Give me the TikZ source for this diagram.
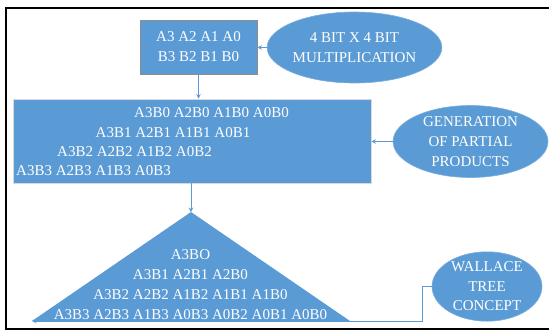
\documentclass[tikz,border=0pt]{standalone}
\usepackage{fontspec}
\setmainfont{Liberation Serif}
\usetikzlibrary{shapes.geometric,arrows.meta}
\definecolor{fillblue}{HTML}{5B9BD5}
\definecolor{lineblue}{HTML}{5B9BD5}
\tikzset{
  txt/.style={text=white,font=\fontsize{15}{20}\selectfont,inner sep=0pt},
  bluebox/.style={rectangle,fill=fillblue,inner sep=0pt},
  blueell/.style={ellipse,fill=fillblue,draw=fillblue!80!white,line width=0.6pt,inner sep=0pt,align=center,txt},
  conn/.style={draw=lineblue,line width=0.9pt,-{Stealth[length=4.5pt,width=4.5pt]}},
}
\begin{document}
\begin{tikzpicture}[x=1pt,y=-1pt]
\useasboundingbox (0,0) rectangle (549,333);
% frame
\draw[line width=2pt,black] (560,8) -- (6,8) -- (6,329) -- (560,329);
% box 1
\node[bluebox,draw=gray!90,line width=0.8pt,minimum width=117pt,minimum height=54pt,align=center,txt] (b1) at (198.5,47) {A3 A2 A1 A0\\B3 B2 B1 B0};
% ellipse 1
\node[blueell,minimum width=155pt,minimum height=71pt] (e1) at (354.5,47.5) {4 BIT X 4 BIT\\MULTIPLICATION};
% box 2
\node[bluebox,draw=gray!30,line width=0.8pt,minimum width=358pt,minimum height=84pt] (b2) at (192,141) {};
\node[txt,anchor=west] (p0) at (134,112.5) {A3B0 A2B0 A1B0 A0B0};
\node[txt,anchor=west] (p1) at (95.5,132.5) {A3B1 A2B1 A1B1 A0B1};
\node[txt,anchor=west] (p2) at (57,151.5) {A3B2 A2B2 A1B2 A0B2};
\node[txt,anchor=west] (p3) at (16,171) {A3B3 A2B3 A1B3 A0B3};
% ellipse 2
\node[blueell,minimum width=155pt,minimum height=72pt] (e2) at (470.5,141.5) {GENERATION\\OF PARTIAL\\PRODUCTS};
% triangle
\coordinate (apex) at (191,212);
\coordinate (tbl) at (32,321);
\coordinate (tbr) at (350,321);
\fill[fillblue] (apex) -- (tbr) -- (tbl) -- cycle;
\node[txt,align=center] (tt) at (190.5,285) {A3BO\\A3B1 A2B1 A2B0\\A3B2 A2B2 A1B2 A1B1 A1B0\\A3B3 A2B3 A1B3 A0B3 A0B2 A0B1 A0B0};
% ellipse 3
\node[blueell,minimum width=110pt,minimum height=67pt,font=\fontsize{15}{19.5}\selectfont] (e3) at (487,286.5) {WALLACE\\TREE\\CONCEPT};
% connectors
\draw[conn] (e1.west) -- (b1.east |- e1.west);
\draw[conn] (b1.south) -- (b1.south |- b2.north);
\draw[conn] (e2.west) -- (b2.east |- e2.west);
\draw[conn] (b2.south -| apex) -- (apex);
\draw[conn] (e3.west) -- ++(-9,0) |- (tbl);
\end{tikzpicture}
\end{document}
